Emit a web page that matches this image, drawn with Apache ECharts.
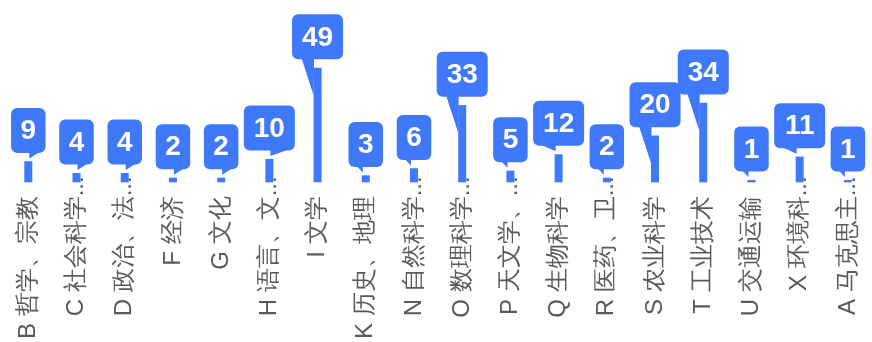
<!DOCTYPE html>
<html>
<head>
<meta charset="utf-8">
<script src="https://cdn.jsdelivr.net/npm/echarts@6/dist/echarts.min.js"></script>
<style>html,body{margin:0;padding:0;background:#fff;}#c{width:872px;height:342px;}</style>
</head>
<body>
<div id="c"></div>
<script>
const categories = ['B 哲学、宗教','C 社会科学总论','D 政治、法律','F 经济','G 文化','H 语言、文字','I 文学','K 历史、地理','N 自然科学总论','O 数理科学和化学','P 天文学、地球科学','Q 生物科学','R 医药、卫生','S 农业科学','T 工业技术','U 交通运输','X 环境科学、安全科学','A 马克思主义、列宁主义、毛泽东思想、邓小平理论'];
const tickLabels = ['B 哲学、宗教','C 社会科学...','D 政治、法...','F 经济','G 文化','H 语言、文...','I 文学','K 历史、地理','N 自然科学...','O 数理科学...','P 天文学、...','Q 生物科学','R 医药、卫...','S 农业科学','T 工业技术','U 交通运输','X 环境科...','A 马克思主...'];
const values = [9,4,4,2,2,10,49,3,6,33,5,12,2,20,34,1,11,1];

const COLOR = '#3F78F9';
const LABEL_COLOR = '#595959';
const LABEL_FONT = '24px sans-serif';
const maxIdx = values.indexOf(Math.max.apply(null, values));

const ctx = document.createElement('canvas').getContext('2d');
ctx.font = LABEL_FONT;
const ellW = ctx.measureText('...').width;

const chart = echarts.init(document.getElementById('c'));

function renderBubble(params, api) {
  const i = api.value(0), v = api.value(1);
  const top = api.coord([i, v]);
  const base = api.coord([i, 0]);
  const c = top[0], T = top[1];
  const txt = String(v);
  const w = 18 + 16.5 * txt.length, h = 45;
  const bb = T - 8.4, bt = bb - h;
  const L = c - w / 2, R = c + w / 2;
  const long = (bb + 36) < base[1] - 12;
  let pts;
  if (long) pts = [[L + 9.5, bb - 1], [c - 3.5, bb - 1], [c - 4, bb + 36]];
  else if (i < maxIdx) pts = [[c + 1, bb - 1], [R - 6, bb - 1], [c + 1, bb + 5.5]];
  else pts = [[L + 8, bb - 1], [c - 3, bb - 1], [c - 3, bb + 5.5]];
  return {
    type: 'group',
    children: [
      { type: 'rect', shape: { x: L, y: bt, width: w, height: h, r: 6 }, style: { fill: COLOR } },
      { type: 'polygon', shape: { points: pts }, style: { fill: COLOR } },
      { type: 'text', x: c, y: bt + h / 2 + 1, style: { text: txt, fill: '#fff', font: 'bold 28px "Liberation Sans", Arial, sans-serif', align: 'center', verticalAlign: 'middle' } }
    ]
  };
}

chart.setOption({
  animation: false,
  grid: { left: 4.2, width: 879.1, top: 42, bottom: 157, containLabel: false },
  xAxis: {
    type: 'category',
    data: categories,
    axisLine: { show: false },
    axisTick: { show: false },
    axisLabel: {
      rotate: 90, interval: 0, margin: 14 - ellW, fontSize: 24, color: LABEL_COLOR,
      formatter: function (val, idx) {
        const s = tickLabels[idx];
        if (s.endsWith('...')) return '{t|' + s.slice(0, -3) + '}{e|...}';
        return '{t|' + s + '}{h|...}';
      },
      rich: {
        t: { fontSize: 24, color: LABEL_COLOR },
        e: { fontSize: 24, color: LABEL_COLOR },
        h: { fontSize: 24, color: 'rgba(0,0,0,0)' }
      }
    }
  },
  yAxis: { type: 'value', min: 0, max: 60, show: false, splitLine: { show: false } },
  series: [
    { type: 'bar', data: values, barWidth: 8, itemStyle: { color: COLOR } },
    { type: 'custom', clip: false, renderItem: renderBubble, data: values.map((v, i) => [i, v]), z: 3 }
  ]
});
</script>
</body>
</html>
